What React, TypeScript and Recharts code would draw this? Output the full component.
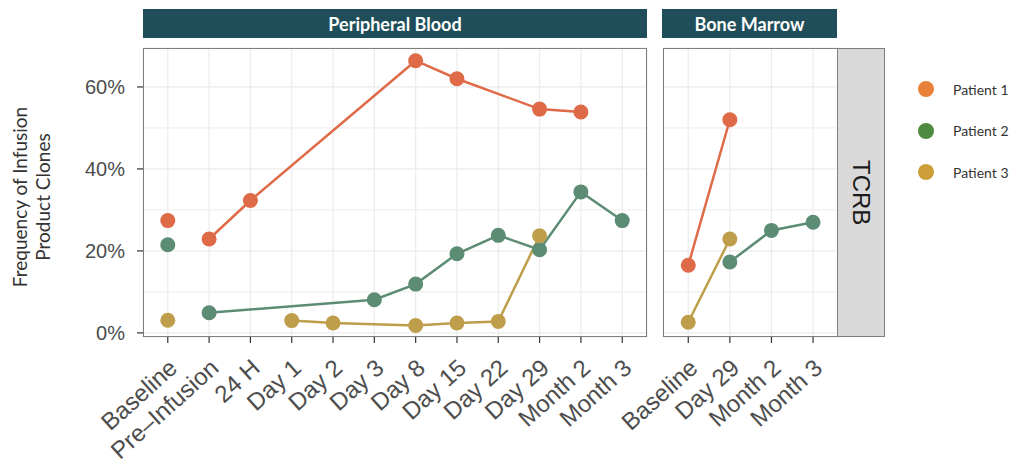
import React from 'react';
import {
  ComposedChart,
  Line,
  XAxis,
  YAxis,
  CartesianGrid,
  ReferenceLine,
} from 'recharts';

// time points per tissue
const pbTimepoints = ['Baseline', 'Pre–Infusion', '24 H', 'Day 1', 'Day 2', 'Day 3', 'Day 8', 'Day 15', 'Day 22', 'Day 29', 'Month 2', 'Month 3'];
const bmTimepoints = ['Baseline', 'Day 29', 'Month 2', 'Month 3'];

// frequency of infusion product clones (%) - peripheral blood
const pbPatient1 = [27.4, 22.9, 32.3, null, null, null, 66.4, 62.0, null, 54.6, 53.9, null];
const pbPatient2 = [21.5, 4.9, null, null, null, 8.1, 11.9, 19.3, 23.8, 20.3, 34.4, 27.4];
const pbPatient3 = [3.1, null, null, 3.0, 2.4, null, 1.8, 2.4, 2.8, 23.7, null, null];

// bone marrow
const bmPatient1 = [16.5, 52.0, null, null];
const bmPatient2 = [null, 17.3, 25.0, 27.0];
const bmPatient3 = [2.6, 22.9, null, null];

const patients = ['Patient 1', 'Patient 2', 'Patient 3'];
const pointColors = ['#DE6A47', '#5C8C74', '#BF9E4B'];
const legendColors = ['#E8823A', '#4E8A3F', '#CC9F38'];

const yTicks = [0, 20, 40, 60];
const yMinor = [10, 30, 50];
const Y_DOMAIN: [number, number] = [-1, 69.5];

const AXIS_FONT = '"Liberation Sans", Arial, sans-serif';
const LABEL_FONT = 'Lato, "Noto Sans", sans-serif';

// split a series into an isolated baseline point and the connected rest
const toPoints = (values: (number | null)[], from: number, to: number) =>
  values
    .map((v, i) => ({ x: i, y: v }))
    .filter((p) => p.x >= from && p.x <= to && p.y !== null);

const AngledTick = ({ x, y, payload, labels }: any) => (
  <g transform={`translate(${x + 11},${y + 23})`}>
    <text
      x={0}
      y={0}
      textAnchor="end"
      transform="rotate(-42)"
      fontSize={24}
      fontFamily={AXIS_FONT}
      fill="#4D4D4D"
    >
      {labels[payload.value]}
    </text>
  </g>
);

const YTitle = () => (
  <text
    transform="translate(27,197) rotate(-90)"
    textAnchor="middle"
    fontSize={19}
    fontFamily={LABEL_FONT}
    fill="#333333"
  >
    <tspan x={0} dy={0}>Frequency of Infusion</tspan>
    <tspan x={0} dy={23}>Product Clones</tspan>
  </text>
);

const renderSeries = (series: (number | null)[][], splitBaseline: boolean, prefix: string) =>
  series.flatMap((values, i) => {
    const parts = splitBaseline
      ? [toPoints(values, 0, 0), toPoints(values, 1, values.length - 1)]
      : [toPoints(values, 0, values.length - 1)];
    return parts.map((data, j) => (
      <Line
        key={`${prefix}-${i}-${j}`}
        data={data}
        dataKey="y"
        type="linear"
        stroke={pointColors[i]}
        strokeWidth={2.5}
        dot={{ r: 7.5, fill: pointColors[i], stroke: 'none' }}
        activeDot={false}
        isAnimationActive={false}
      />
    ));
  });

const stripStyle: React.CSSProperties = {
  position: 'absolute',
  top: 9,
  height: 29,
  background: '#1F4E5A',
  color: '#FFFFFF',
  fontFamily: LABEL_FONT,
  fontWeight: 700,
  fontSize: 18,
  display: 'flex',
  alignItems: 'center',
  justifyContent: 'center',
};

const panelBorder: React.CSSProperties = {
  position: 'absolute',
  top: 48,
  height: 289,
  border: '1.5px solid #7F7F7F',
  boxSizing: 'border-box',
  pointerEvents: 'none',
};

const App = () => {
  return (
    <div style={{ position: 'absolute', left: 0, top: 0, width: 1010, height: 468, background: '#fff' }}>
      {/* Bone Marrow (drawn first so its wide left margin sits under the blood panel) */}
      <div style={{ position: 'absolute', left: 555, top: 0 }}>
        <ComposedChart width={455} height={468} margin={{ top: 48, right: 172, bottom: 11, left: 108.3 }}>
          <CartesianGrid stroke="#EBEBEB" strokeWidth={1.2} />
          {yMinor.map((v) => (
            <ReferenceLine key={v} y={v} stroke="#F0F0F0" strokeWidth={1.2} />
          ))}
          <XAxis
            type="number"
            dataKey="x"
            domain={[-0.6, bmTimepoints.length - 0.4]}
            ticks={bmTimepoints.map((_, i) => i)}
            allowDataOverflow
            height={120}
            axisLine={false}
            tickSize={6}
            tickMargin={4}
            tickLine={{ stroke: '#333333', strokeWidth: 1.2 }}
            tick={<AngledTick labels={bmTimepoints} />}
            interval={0}
          />
          <YAxis type="number" domain={Y_DOMAIN} ticks={yTicks} allowDataOverflow hide />
          {renderSeries([bmPatient1, bmPatient2, bmPatient3], false, 'bm')}
        </ComposedChart>
      </div>

      {/* Peripheral Blood */}
      <div style={{ position: 'absolute', left: 0, top: 0 }}>
        <ComposedChart width={655} height={468} margin={{ top: 48, right: 8, bottom: 11, left: 0 }}>
          <CartesianGrid stroke="#EBEBEB" strokeWidth={1.2} />
          {yMinor.map((v) => (
            <ReferenceLine key={v} y={v} stroke="#F0F0F0" strokeWidth={1.2} />
          ))}
          <XAxis
            type="number"
            dataKey="x"
            domain={[-0.6, pbTimepoints.length - 0.4]}
            ticks={pbTimepoints.map((_, i) => i)}
            allowDataOverflow
            height={120}
            axisLine={false}
            tickSize={6}
            tickMargin={4}
            tickLine={{ stroke: '#333333', strokeWidth: 1.2 }}
            tick={<AngledTick labels={pbTimepoints} />}
            interval={0}
          />
          <YAxis
            type="number"
            domain={Y_DOMAIN}
            ticks={yTicks}
            allowDataOverflow
            width={143}
            axisLine={false}
            tickSize={6}
            tickMargin={12}
            tickLine={{ stroke: '#333333', strokeWidth: 1.2 }}
            tickFormatter={(v) => `${v}%`}
            tick={{ fontSize: 20, fontFamily: AXIS_FONT, fill: '#4D4D4D' }}
            label={<YTitle />}
          />
          {renderSeries([pbPatient1, pbPatient2, pbPatient3], true, 'pb')}
        </ComposedChart>
      </div>

      {/* panel borders and facet strips */}
      <div style={{ ...panelBorder, left: 143, width: 504 }} />
      <div style={{ ...panelBorder, left: 663, width: 175 }} />
      <div style={{ ...stripStyle, left: 143, width: 504 }}>Peripheral Blood</div>
      <div style={{ ...stripStyle, left: 662, width: 175 }}>Bone Marrow</div>
      <div
        style={{
          position: 'absolute',
          left: 837,
          top: 48,
          width: 48,
          height: 289,
          background: '#D9D9D9',
          border: '1.5px solid #7F7F7F',
          boxSizing: 'border-box',
          display: 'flex',
          alignItems: 'center',
          justifyContent: 'center',
          writingMode: 'vertical-rl',
          fontFamily: AXIS_FONT,
          fontSize: 24,
          color: '#1A1A1A',
        }}
      >
        TCRB
      </div>

      {/* legend */}
      {patients.map((name, i) => (
        <div
          key={name}
          style={{ position: 'absolute', left: 918, top: 81 + i * 41.5, height: 16, display: 'flex', alignItems: 'center' }}
        >
          <span style={{ width: 16, height: 16, borderRadius: 8, background: legendColors[i], display: 'inline-block' }} />
          <span style={{ marginLeft: 19, fontFamily: LABEL_FONT, fontSize: 14, color: '#333333' }}>{name}</span>
        </div>
      ))}
    </div>
  );
};

export default App;
